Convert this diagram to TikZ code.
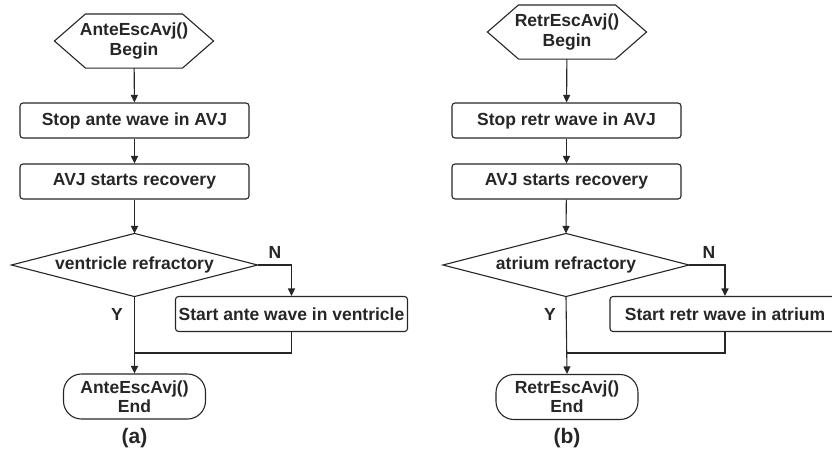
\documentclass[tikz,border=0pt]{standalone}
\usepackage{fontspec}
\setmainfont{Liberation Sans}
\usetikzlibrary{arrows.meta}
\newcommand\hexdraw[1]{\draw ([xshift=31pt]#1.north west) -- ([xshift=-31pt]#1.north east) -- (#1.east) -- ([xshift=-31pt]#1.south east) -- ([xshift=31pt]#1.south west) -- (#1.west) -- cycle;}
\newcommand\diadraw[1]{\draw (#1.north) -- (#1.east) -- (#1.south) -- (#1.west) -- cycle;}
\begin{document}
\begin{tikzpicture}[x=1pt,y=-1pt,
  line width=1.1pt,
  color=black!85,
  txt/.style={font=\bfseries\fontsize{17.5}{19.2}\selectfont, text=black!85, align=center, inner sep=0pt},
  hexa/.style={txt, minimum width=158pt, minimum height=53pt},
  proc/.style={txt, draw=black!85, rounded corners=3pt, minimum height=35pt},
  deci/.style={txt, minimum width=245pt, minimum height=62pt},
  term/.style={txt, draw=black!85, rounded corners=18pt, minimum width=142pt, minimum height=45pt},
  lab/.style={txt},
  captxt/.style={font=\bfseries\fontsize{21}{24}\selectfont, text=black!85, inner sep=0pt},
  arr/.style={-{Triangle[length=7.5pt,width=7pt]}}
]
\useasboundingbox (0,0) rectangle (832,456);

% ---------- (a) ----------
\node[hexa] (b1) at (134,41) {AnteEscAvj()\\Begin};
\hexdraw{b1}
\node[proc, minimum width=229pt] (p1) at (134.5,120.5) {Stop ante wave in AVJ};
\node[proc, minimum width=229pt] (p2) at (134.5,181.5) {AVJ starts recovery};
\node[deci] (d1) at (134.5,265) {ventricle refractory};
\diadraw{d1}
\node[proc, minimum width=232pt] (p3) at (291.5,314) {Start ante wave in ventricle};
\node[term] (e1) at (134.5,396.5) {AnteEscAvj()\\End};
\node[lab] (n1) at (275,252) {N};
\node[lab] (y1) at (117,314) {Y};
\node[captxt] (ca) at (134.5,438) {(a)};
\coordinate (m1) at (134.5,353);

\draw[arr] (b1) -- (p1);
\draw[arr] (p1) -- (p2);
\draw[arr] (p2) -- (d1.north);
\draw[arr] (d1.east) -| (p3.north);
\draw[arr] (d1.south) -- (e1.north);
\draw (p3.south) |- (m1);

% ---------- (b) ----------
\node[hexa] (b2) at (567,32) {RetrEscAvj()\\Begin};
\hexdraw{b2}
\node[proc, minimum width=229pt] (p4) at (566.5,120.5) {Stop retr wave in AVJ};
\node[proc, minimum width=229pt] (p5) at (566.5,181.5) {AVJ starts recovery};
\node[deci] (d2) at (566,265) {atrium refractory};
\diadraw{d2}
\node[proc, minimum width=230pt] (p6) at (725,314) {Start retr wave in atrium};
\node[term] (e2) at (567,397) {RetrEscAvj()\\End};
\node[lab] (n2) at (709,252) {N};
\node[lab] (y2) at (550,314) {Y};
\node[captxt] (cb) at (567,438) {(b)};
\coordinate (m2) at (566,353);

\draw[arr] (b2) -- (p4);
\draw[arr] (p4) -- (p5);
\draw[arr] (p5) -- (d2.north);
\draw[arr] (d2.east) -| (p6.north);
\draw[arr] (d2.south) -- (e2.north);
\draw (p6.south) |- (m2);
\end{tikzpicture}
\end{document}
